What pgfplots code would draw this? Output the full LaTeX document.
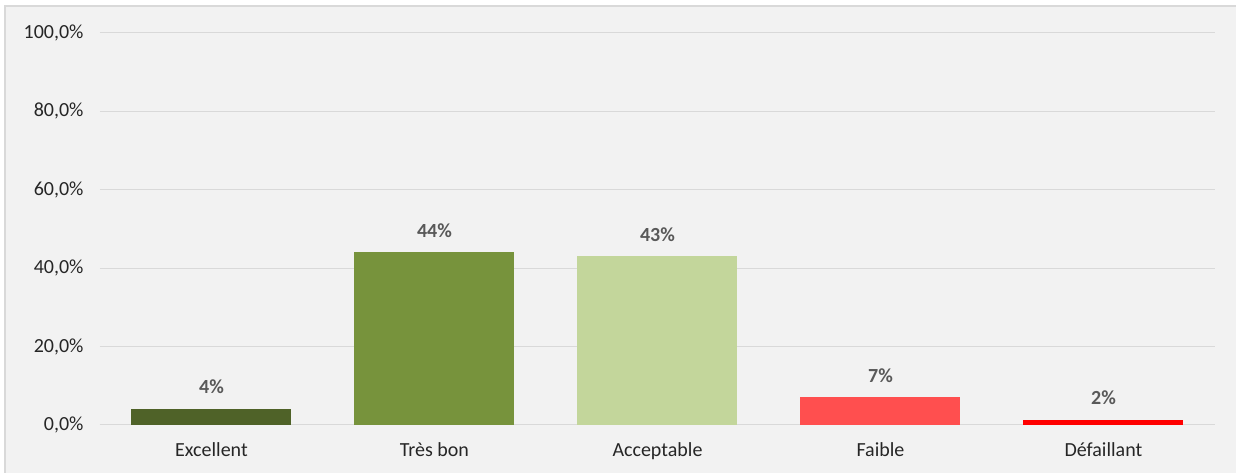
\documentclass[border=0pt]{standalone}
\usepackage{pgfplots}
\pgfplotsset{compat=1.18}
\usepackage{fontspec}
\setmainfont{Carlito}
\definecolor{bgc}{HTML}{F2F2F2}
\definecolor{gridc}{HTML}{D9D9D9}
\definecolor{txt}{HTML}{262626}
\definecolor{lab}{HTML}{595959}
\definecolor{c1}{HTML}{4F6228}
\definecolor{c2}{HTML}{77933C}
\definecolor{c3}{HTML}{C3D69B}
\definecolor{c4}{HTML}{FF4F4F}
\definecolor{c5}{HTML}{FF0000}
\begin{document}
\begin{tikzpicture}[x=1pt,y=1pt]
\fill[white] (-100,-48) rectangle (1136,425);
\path[use as bounding box] (-100,-48) rectangle (1136,425);
\filldraw[fill=bgc,draw=gridc,line width=1.5pt] (-95,-60) rectangle (1150,419);
\begin{axis}[
  at={(0,0)}, anchor=south west,
  scale only axis, width=1115pt, height=392pt,
  xmin=-0.5, xmax=4.5, ymin=0, ymax=100,
  ytick={0,20,40,60,80,100},
  xtick={0,1,2,3,4},
  xticklabels={Excellent,Très bon,Acceptable,Faible,Défaillant},
  axis lines=left,
  x axis line style={draw=gridc,line width=1pt,-},
  y axis line style={draw=none},
  major tick length=0pt,
  ymajorgrids, grid style={draw=gridc,line width=1pt},
  /pgf/number format/assume math mode=true,
  yticklabel={\pgfmathprintnumber[fixed,fixed zerofill,precision=1,use comma]{\tick}\%},
  yticklabel style={font=\fontsize{20}{24}\selectfont, text=txt, xshift=-13pt},
  xticklabel style={font=\fontsize{20}{24}\selectfont, text=txt, yshift=-14pt},
  ybar, bar width=160pt, bar shift=0pt,
  point meta=explicit symbolic,
  nodes near coords={\pgfplotspointmeta\%},
  nodes near coords style={font=\bfseries\fontsize{20}{24}\selectfont, text=lab, yshift=11pt},
  clip=false,
]
\addplot[fill=c1,draw=none] coordinates {(0,4.2) [4]};
\addplot[fill=c2,draw=none] coordinates {(1,44.1) [44]};
\addplot[fill=c3,draw=none] coordinates {(2,43.1) [43]};
\addplot[fill=c4,draw=none] coordinates {(3,7.1) [7]};
\addplot[fill=c5,draw=none] coordinates {(4,1.4) [2]};
\end{axis}
\end{tikzpicture}
\end{document}
